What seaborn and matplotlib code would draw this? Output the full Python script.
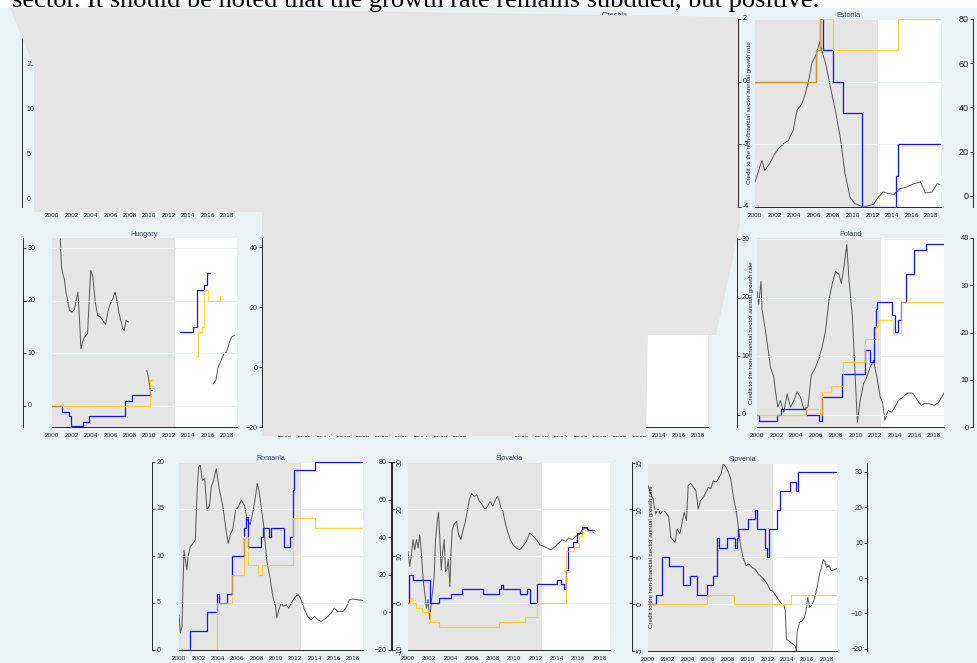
# %% Requirements and constants
import numpy as np
import seaborn as sns
import matplotlib.pyplot as plt
from matplotlib.patches import Polygon, Rectangle

sns.set_theme(style='white')
plt.rcParams['font.family'] = ['Liberation Sans', 'DejaVu Sans']

W, H = 978, 663
BG = '#eaf2f3'
SHADE = '#e5e5e5'
GRID = '#eaf2f3'
INK = '#262626'
GRAY_LINE = '#555555'
BLUE = '#1010ff'
YELLOW = '#ffcc00'
TITLE_C = '#3c4b68'
SHADE_END = 2012.6
YEARS = list(range(2000, 2019, 2))
CREDIT_LABEL = 'Credit to the non-financial sector annual growth rate'
TOP_TEXT = 'sector. It should be noted that the growth rate remains subdued, but positive.'

# %% Data (nan = hidden in the reference)
# Estonia
est_credit_t = [2000.0, 2000.7, 2001.0, 2001.5, 2002.0, 2002.4, 2002.9, 2003.4, 2003.9, 2004.3,
                2004.8, 2005.1, 2005.5, 2005.8, 2006.3, 2006.6, 2006.8, 2007.2, 2007.7, 2008.2,
                2008.7, 2009.2, 2009.7, 2010.2, 2011.1, 2012.1, 2012.6, 2013.1, 2013.7, 2014.2,
                2014.8, 2015.5, 2016.2, 2016.9, 2017.4, 2018.1, 2018.6, 2018.9]
est_credit = [6.3, 16, 11.6, 14.6, 19, 21.4, 23.6, 25, 29.7, 38.8,
              41.8, 45.6, 52.4, 60, 64.4, 69.7, 66, 60, 49.3, 38.8,
              26.7, 10, -0.5, -3.5, -5, -3.8, -0.5, 1.8, 1, 0.7,
              3.3, 4, 5.5, 6.3, 1.3, 1.8, 5.5, 5.2]
est_blue_t = [2000.0, 2006.2, 2006.65, 2006.9, 2008.0, 2009.0, 2010.9, 2014.4, 2014.6, 2019.0]
est_blue = [0, 1, 2, 1, 0, -1, -4, -3, -2, -2]
est_yellow_t = [2000.0, 2006.2, 2006.65, 2008.0, 2014.6, 2019.0]
est_yellow = [0, 1, 2, 1, 2, 2]

# Hungary
hun_credit_t = [2000.85, 2000.96, 2001.06, 2001.26, 2001.43, 2001.6, 2001.8, 2002.05, 2002.29, 2002.49,
                2002.66, 2002.83, 2002.97, 2003.14, 2003.34, 2003.65, 2003.86, 2003.99, 2004.2, 2004.44,
                2004.68, 2004.95, 2005.22, 2005.5, 2005.73, 2005.97, 2006.25, 2006.48, 2006.66, 2006.86,
                2007.06, 2007.27, 2007.41, 2007.61, 2007.85, 2008.8, 2009.73, 2009.9, 2010.14, 2013.0,
                2016.55, 2016.83, 2017.06, 2017.3, 2017.65, 2017.92, 2018.19, 2018.43, 2018.77]
hun_credit = [42.8, 33.9, 31.7, 29.4, 25, 22.2, 18.9, 18.3, 19.1, 22.2,
              25, 15.6, 6.1, 8.3, 10, 11.1, 25, 32.2, 30, 21.7,
              17.2, 16.7, 15.6, 14.2, 18.3, 21.1, 22.8, 25, 22.2, 18.3,
              15.6, 12.8, 12.2, 15.6, 15, np.nan, -1.1, -3.3, -8.9, np.nan,
              -5.6, -4.4, 0, 1.7, 4.4, 5, 7.8, 10, 10.6]
hun_blue_t = [2000.0, 2001.0, 2001.7, 2002.0, 2003.2, 2003.75, 2007.5, 2008.2, 2010.1, 2010.3, 2010.4,
              2013.1, 2014.5, 2014.85, 2015.6, 2015.9, 2016.2]
hun_blue = [0, -1.1, -2, -3.9, -3, -2, 1, 2, 3, 3, np.nan,
            14, 15, 22, 23, 25.2, 25.2]
hun_yellow_t = [2000.0, 2010.1, 2010.3, 2010.4,
                2014.8, 2014.95, 2015.4, 2015.65, 2016.0, 2017.3, 2017.5]
hun_yellow = [0, 4.9, 4.9, np.nan,
              9.4, 14, 15, 22, 20, 20.8, 20.8]

# Poland
pol_credit_t = [2000.0, 2000.17, 2000.41, 2000.51, 2000.85, 2001.19, 2001.36, 2001.53, 2001.7, 2001.87,
                2002.11, 2002.38, 2002.72, 2003.06, 2003.4, 2003.74, 2004.08, 2004.42, 2004.76, 2005.17,
                2005.51, 2005.95, 2006.29, 2006.63, 2006.97, 2007.31, 2007.65, 2007.99, 2008.33, 2008.57,
                2008.84, 2009.12, 2009.35, 2009.69, 2009.93, 2010.2, 2010.48, 2010.82, 2011.16, 2011.5,
                2011.84, 2012.18, 2012.52, 2012.76, 2012.99, 2013.33, 2013.67, 2014.01, 2014.35, 2014.8,
                2015.31, 2015.82, 2016.33, 2016.67, 2017.07, 2017.52, 2018.03, 2018.44, 2018.88, 2019.05]
pol_credit = [28.7, 26, 30.8, 24.8, 20.5, 15.5, 12.7, 11.6, 10.6, 7.7,
              4.2, 5.6, 3.1, 7, 4.2, 5.6, 7.4, 6.3, 3.8, 4.2,
              10.9, 12.7, 14.5, 17, 20.5, 26.9, 30.4, 32.9, 32.3, 30.4,
              34, 38.6, 31.1, 23.3, 12.7, 1, 5.6, 9.1, 10.6, 12.7,
              14.1, 10.6, 6.3, 5.2, 1.4, 3.5, 3.1, 4.2, 5.6, 6.3,
              7.2, 7.2, 5.6, 4.6, 5, 4.9, 4.6, 5.2, 6.7, 7.4]
pol_blue_t = [2000.0, 2000.2, 2002.0, 2002.4, 2005.0, 2006.3, 2006.6, 2008.6, 2011.0, 2011.5,
              2011.9, 2012.05, 2012.2, 2013.7, 2014.0, 2014.3, 2014.6, 2015.1, 2016.0, 2017.2, 2019.1]
pol_blue = [0, -1, 0, 1, 0, -1, 3, 7, 11, 9,
            15, 18, 19.2, 17.1, 14.2, 16.2, 19.2, 24.1, 28.1, 29.1, 29.1]
pol_yellow_t = [2000.0, 2005.0, 2006.4, 2006.6, 2007.5, 2008.7, 2011.0, 2012.1, 2012.3, 2013.8, 2014.6, 2019.1]
pol_yellow = [0, 1, 0, 3.9, 4.9, 9, 13, 15.1, 16.2, 14, 19.2, 19.2]

# Romania
rou_credit_t = [2000.0, 2000.14, 2000.31, 2000.41, 2000.52, 2000.65, 2000.82, 2000.93, 2001.17, 2001.44,
                2001.68, 2001.89, 2002.03, 2002.2, 2002.41, 2002.65, 2002.89, 2003.16, 2003.33, 2003.57,
                2003.85, 2004.12, 2004.54, 2004.88, 2005.09, 2005.29, 2005.57, 2005.84, 2006.12, 2006.43,
                2006.77, 2007.01, 2007.35, 2007.63, 2007.87, 2008.08, 2008.25, 2008.49, 2008.76, 2009.07,
                2009.35, 2009.69, 2009.97, 2010.1, 2010.31, 2010.55, 2010.82, 2011.07, 2011.34, 2011.68,
                2012.03, 2012.34, 2012.61, 2012.96, 2013.3, 2013.64, 2013.99, 2014.33, 2014.67, 2015.19,
                2015.7, 2016.05, 2016.39, 2016.91, 2017.25, 2017.59, 2017.94, 2018.45, 2018.97]
rou_credit = [-1.2, -11, -7.4, 13.8, 33, 28, 22.6, 29.7, 35, 36.7,
              38.5, 66.8, 77.4, 78.3, 70.3, 71.2, 54.4, 57, 66.8, 70.3,
              76.5, 66.8, 56, 42.9, 36.7, 41.2, 44.7, 54.4, 56, 59.7,
              57, 50, 46.6, 53.5, 60.6, 68.6, 65, 56, 45.6, 27,
              20, 8.5, 3.2, -3, 1.4, 4.9, 3.2, 4.1, 2.3, 5.8,
              8.5, 9.4, 6.7, 1.4, -2.1, -3.9, -2.1, -3.9, -4.8, -3,
              -0.4, 2.3, 0.5, 0.5, 2.3, 6.7, 7.1, 6.7, 6.4]
rou_blue_t = [2000.0, 2001.17, 2002.92, 2003.92, 2004.12, 2004.95, 2005.5, 2006.7, 2006.94, 2007.11,
              2008.49, 2008.66, 2009.28, 2009.52, 2010.89, 2011.48, 2011.75, 2011.92, 2014.05, 2019.0]
rou_blue = [0, 2, 4, 6, 5, 6, 10, 13, 14.1, 11,
            12, 13, 12, 13, 11, 12, 17, 19.1, 20, 20]
rou_yellow_t = [2000.0, 2003.92, 2005.5, 2006.7, 2007.11, 2008.14, 2008.56, 2011.75, 2014.05, 2019.0]
rou_yellow = [0, 5, 8, 12, 9, 8, 9, 14, 13, 13]

# Slovakia (all series on the left scale)
svk_credit_t = [2000.0, 2000.16, 2000.32, 2000.47, 2000.63, 2000.79, 2000.95, 2001.1, 2001.26, 2001.42,
                2001.58, 2001.74, 2001.89, 2002.05, 2002.21, 2002.37, 2002.46, 2002.59, 2002.74, 2002.87,
                2003.0, 2003.12, 2003.25, 2003.41, 2003.53, 2003.66, 2003.79, 2003.94, 2004.04, 2004.16,
                2004.32, 2004.57, 2004.76, 2004.98, 2005.14, 2005.36, 2005.58, 2005.77, 2005.99, 2006.21,
                2006.47, 2006.72, 2006.97, 2007.26, 2007.48, 2007.73, 2007.98, 2008.23, 2008.42, 2008.61,
                2008.74, 2008.93, 2009.15, 2009.37, 2009.62, 2009.87, 2010.19, 2010.5, 2010.82, 2011.14,
                2011.45, 2011.77, 2012.08, 2012.4, 2012.71, 2013.09, 2013.47, 2013.88, 2014.2, 2014.51,
                2014.83, 2015.14, 2015.46, 2015.77, 2016.09, 2016.4, 2016.72, 2017.03, 2017.51]
svk_credit = [11, 7.8, 10.3, 13.5, 11.3, 13.5, 11.7, 14.5, 10.6, 5,
              2.1, -1.1, 0.7, -3.5, 0.7, 3.5, 5.7, 13.5, 17, 19.3,
              13.5, 7.1, 10.6, 13.5, 6.7, 7.1, 9.2, 3.5, 10.6, 15.6,
              16.7, 17.4, 14.5, 13.5, 15.2, 17, 19.5, 22, 23.3, 22.7,
              23, 21.6, 20.9, 19.9, 20.6, 21.6, 20.6, 22, 22.7, 21.6,
              20.2, 19.5, 17, 15.2, 13.5, 12.4, 11.7, 11.3, 12.1, 13.1,
              14.9, 14.2, 13.5, 12.4, 12.1, 11.7, 11.3, 12.1, 12.8, 13.5,
              13.1, 13.8, 13.5, 14.2, 14.5, 15.6, 16, 15.5, 14.9]
svk_blue_t = [2000.0, 2000.09, 2000.47, 2002.05, 2002.93, 2004.01, 2005.05, 2007.1, 2008.52, 2008.74,
              2008.93, 2010.5, 2011.2, 2011.45, 2012.15, 2014.04, 2014.35, 2014.67, 2014.83, 2015.05,
              2015.55, 2015.93, 2016.4, 2016.88, 2017.5]
svk_blue = [0, 6, 5, 0, 1, 2, 3, 2, 3, 3.9,
            3, 2, 3, 0, 4, 5, 4, 3, 7, 12,
            13, 15, 16.2, 15.6, 15.6]
svk_yellow_t = [2000.0, 2000.16, 2000.41, 2000.79, 2001.36, 2002.05, 2002.93, 2008.52, 2011.04, 2012.15,
                2014.83, 2015.6, 2016.09, 2016.4, 2016.88, 2017.5]
svk_yellow = [0, 1, 0, -1, -2, -4.1, -5, -4.1, -3, 0,
              11, 12, 14.2, 15.6, 15.3, 15.3]

# Slovenia
svn_credit_t = [2000.0, 2000.17, 2000.51, 2000.77, 2001.01, 2001.25, 2001.52, 2001.78, 2002.09, 2002.29,
                2002.53, 2002.73, 2002.93, 2003.2, 2003.4, 2003.64, 2003.87, 2004.04, 2004.28, 2004.55,
                2004.81, 2005.05, 2005.29, 2005.56, 2005.82, 2006.06, 2006.3, 2006.57, 2006.84, 2007.07,
                2007.34, 2007.58, 2007.85, 2008.08, 2008.32, 2008.59, 2008.86, 2009.09, 2009.33, 2009.6,
                2009.87, 2010.13, 2010.44, 2010.77, 2011.11, 2011.45, 2011.78, 2012.02, 2012.29, 2012.56,
                2012.79, 2013.13, 2013.47, 2013.64, 2013.8, 2013.91, 2014.14, 2014.38, 2014.58, 2014.81,
                2014.92, 2014.98, 2015.22, 2015.49, 2015.72, 2015.89, 2016.06, 2016.26, 2016.5, 2016.73,
                2017.0, 2017.24, 2017.44, 2017.61, 2017.78, 2017.95, 2018.18, 2018.42, 2018.69, 2018.99]
svn_credit = [26.1, 24.7, 22.3, 18.1, 19.5, 18.1, 19.2, 18.6, 17.2, 11.5,
              10.6, 10.1, 13.9, 12.5, 15.3, 18.6, 16.2, 26.1, 26.8, 25.7,
              24.7, 19.5, 21.9, 22.8, 24.2, 25.7, 25.2, 27.5, 27.1, 28,
              29.4, 32.3, 31.3, 29.9, 28, 22.8, 19.1, 14.3, 8.7, 5.4,
              3.5, 4, 3, 2.5, 1.1, 0.2, -0.8, -1.9, -3.4, -3.8,
              -4.7, -6.2, -7.4, -7.5, -9.2, -17.3, -17.7, -18.2, -18.7, -19.2,
              -21, -15.4, -12.5, -12.1, -11.1, -9.2, -5.5, -8.3, -7.4, -5.9,
              -2.6, 1.1, 3, 5.2, 4.7, 3, 3.5, 2.1, 2.3, 2.7]
svn_blue_t = [2000.0, 2000.84, 2001.45, 2002.12, 2003.47, 2004.21, 2004.95, 2005.96, 2006.5, 2006.97,
              2007.17, 2007.91, 2008.75, 2008.99, 2009.09, 2010.1, 2010.77, 2010.94, 2011.78, 2011.95,
              2012.12, 2012.96, 2013.23, 2014.31, 2014.92, 2015.05, 2019.0]
svn_blue = [0, 1, 5, 4, 2, 3, 1, 2, 3, 7,
            6, 7, 6, 7, 8, 9, 10, 8, 6, 5,
            8, 10, 12, 13, 12, 14, 14]
svn_yellow_t = [2000.0, 2005.96, 2008.68, 2014.38, 2019.0]
svn_yellow = [0, 1, 0, 1, 1]

# %% Layout (pixel boxes of the plot regions, spine offsets)
VISIBLE = {
    'Estonia': dict(rect=(755, 19, 941, 207), off=(17, 32),
                    left=((-4, 2), [-4, -2, 0, 2]), right=((-5, 80), [0, 20, 40, 60, 80]),
                    data=(est_credit_t, est_credit, est_blue_t, est_blue, est_yellow_t, est_yellow),
                    label=-0.03, rot=0, rsize=6.5),
    'Hungary': dict(rect=(52, 238, 237, 427), off=(29, 25),
                    left=((-4, 31.9), [0, 10, 20, 30]), right=((-20, 43), [-20, 0, 20, 40]),
                    data=(hun_credit_t, hun_credit, hun_blue_t, hun_blue, hun_yellow_t, hun_yellow),
                    label=None, rot=0, rsize=5),
    'Poland': dict(rect=(757, 238, 944, 427), off=(20, 29),
                   left=((-2.1, 30.2), [0, 10, 20, 30]), right=((0, 40), [0, 10, 20, 30, 40]),
                   data=(pol_credit_t, pol_credit, pol_blue_t, pol_blue, pol_yellow_t, pol_yellow),
                   label=-0.03, rot=0, rsize=5.5),
    'Romania': dict(rect=(179, 462, 363, 650), off=(27, 28),
                    left=((0, 20), [0, 5, 10, 15, 20]), right=((-20, 80), [-20, 0, 20, 40, 60, 80]),
                    data=(rou_credit_t, rou_credit, rou_blue_t, rou_blue, rou_yellow_t, rou_yellow),
                    label=None, rot=0, rsize=5),
    'Slovakia': dict(rect=(408, 462, 610, 650), off=(16, 22),
                     left=((-10, 30), [-10, 0, 10, 20, 30]), right=((-10, 30), [0, 10, 20]),
                     data=(svk_credit_t, svk_credit, svk_blue_t, svk_blue, svk_yellow_t, svk_yellow),
                     label=None, rot=90, rsize=5),
    'Slovenia': dict(rect=(648, 463, 837, 651), off=(16, 30),
                     left=((-5, 15), [-5, 0, 5, 10, 15]), right=((-20.6, 32.5), [-20, -10, 0, 10, 20, 30]),
                     data=(svn_credit_t, svn_credit, svn_blue_t, svn_blue, svn_yellow_t, svn_yellow),
                     label=0.018, rot=90, rsize=5),
}
# panels hidden under the grey artefact of the reference (title shown where it peeks out)
HIDDEN = {
    'Bulgaria': dict(rect=(52, 19, 237, 207), off=30, left=((-0.8, 20.1), [0, 5, 10, 15, 20]), title=False),
    'Croatia': dict(rect=(285, 19, 470, 207), off=30, left=None, title=True),
    'Czechia': dict(rect=(522, 19, 708, 207), off=30, left=None, title=True),
    'Latvia': dict(rect=(285, 238, 470, 427), off=30, left=None, title=False),
    'Lithuania': dict(rect=(522, 238, 708, 427), off=30, left=None, title=False),
}
OVERLAY_PX = [(10, 8), (150, 8), (740, 17), (740, 226), (716, 335), (648, 335), (646, 436),
              (262, 436), (262, 212), (34, 212), (34, 70), (30, 57)]


# %% Function and class
def add_axes(fig, rect):
    x0, y0, x1, y1 = rect
    return fig.add_axes([x0 / W, 1 - y1 / H, (x1 - x0) / W, (y1 - y0) / H])


def style_x(ax, name):
    ax.set_xlim(2000, 2019)
    ax.set_xticks(YEARS)
    ax.tick_params(axis='x', direction='out', length=2.5, width=0.6,
                   labelsize=4.6, pad=1.5, colors=INK)
    for s in ['top', 'right']:
        ax.spines[s].set_visible(False)
    ax.spines['bottom'].set_color(INK)
    ax.spines['bottom'].set_linewidth(0.7)
    ax.set_xlabel('')
    ax.set_ylabel('')
    if name:
        ax.set_title(name, fontsize=5.2, color=TITLE_C, pad=1.6)


def style_left(ax, width, off, lim, ticks, rot=0):
    ax.spines['left'].set_position(('axes', -off / width))
    ax.spines['left'].set_color(INK)
    ax.spines['left'].set_linewidth(0.7)
    ax.set_ylim(*lim)
    ax.set_yticks(ticks, labels=[f'{t:g}' for t in ticks], ha='left', va='center', rotation=rot)
    ax.tick_params(axis='y', direction='in', length=2, width=0.6,
                   labelsize=5, pad=-3.2, colors=INK)


def style_right(ax2, width, off, lim, ticks, show_labels=True, size=5):
    ax2.yaxis.tick_left()
    ax2.spines['left'].set_position(('axes', 1 + off / width))
    ax2.spines['left'].set_visible(True)
    ax2.spines['left'].set_color(INK)
    ax2.spines['left'].set_linewidth(0.7)
    for s in ['right', 'top', 'bottom']:
        ax2.spines[s].set_visible(False)
    ax2.set_ylim(*lim)
    ax2.set_yticks(ticks)
    ax2.tick_params(axis='y', direction='out', length=2, width=0.6, labelsize=size,
                    pad=1, colors=INK, labelleft=show_labels)
    ax2.set_ylabel('')


def pieces(t, v):
    t = np.asarray(t, float)
    v = np.asarray(v, float)
    gap = np.isnan(v)
    ids = np.cumsum(gap)
    for k in np.unique(ids[~gap]):
        m = (ids == k) & ~gap
        yield t[m], v[m]


def line(ax, t, v, color, steps=False, lw=0.8, alpha=1.0):
    for tt, vv in pieces(t, v):
        kw = dict(drawstyle='steps-post') if steps else {}
        sns.lineplot(x=tt, y=vv, ax=ax, color=color, lw=lw, alpha=alpha,
                     estimator=None, sort=False, legend=False, **kw)


# %% Play ground
fig = plt.figure(figsize=(W / 100, H / 100), dpi=100)
fig.patch.set_facecolor('white')
fig.add_artist(Rectangle((0, 0), 1, 1 - 8 / H, transform=fig.transFigure,
                         facecolor=BG, edgecolor='none', zorder=-10))

for name, spec in HIDDEN.items():
    ax = add_axes(fig, spec['rect'])
    ax.set_zorder(0)
    ax.set_facecolor('white')
    style_x(ax, name if spec['title'] else None)
    width = spec['rect'][2] - spec['rect'][0]
    ax.axvspan(2000, SHADE_END, color=SHADE, lw=0)
    if spec['left'] is not None:
        style_left(ax, width, spec['off'], *spec['left'])
    else:
        ax.spines['left'].set_visible(False)
        ax.set_yticks([])

overlay = Polygon([(x / W, 1 - y / H) for x, y in OVERLAY_PX], closed=True,
                  transform=fig.transFigure, facecolor=SHADE, edgecolor='none', zorder=1)
fig.add_artist(overlay)

for name, spec in VISIBLE.items():
    ct, cv, bt, bv, yt, yv = spec['data']
    width = spec['rect'][2] - spec['rect'][0]
    ax = add_axes(fig, spec['rect'])
    ax2 = ax.twinx()
    ax.set_zorder(3)
    ax2.set_zorder(2)
    ax.patch.set_visible(False)
    ax2.patch.set_visible(True)
    ax2.patch.set_facecolor('white')

    ax2.axvspan(2000, SHADE_END, color=SHADE, lw=0, zorder=0)
    line(ax2, ct, cv, GRAY_LINE, lw=0.7)
    for t in spec['left'][1]:
        ax.axhline(t, color=GRID, lw=0.8, zorder=0.5)
    line(ax, bt, bv, BLUE, steps=True, lw=0.9)
    line(ax, yt, yv, YELLOW, steps=True, lw=0.9, alpha=0.75)

    style_x(ax, name)
    style_left(ax, width, spec['off'][0], *spec['left'], rot=spec['rot'])
    style_right(ax2, width, spec['off'][1], *spec['right'],
                show_labels=(name != 'Slovakia'), size=spec['rsize'])
    if spec['label'] is not None:
        ax.text(spec['label'], 0.5, CREDIT_LABEL, rotation=90, transform=ax.transAxes,
                fontsize=4.5, color=INK, ha='center', va='center')

fig.text(12 / W, 1 - 6.5 / H, TOP_TEXT, fontsize=19, family='Liberation Serif',
         ha='left', va='baseline', color='black', zorder=10)

fig.savefig('out.png', dpi=100)
